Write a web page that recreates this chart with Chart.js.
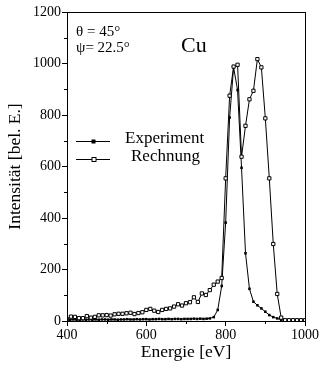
<!DOCTYPE html>
<html lang="de">
<head>
    <meta charset="utf-8">
    <script src="https://cdn.jsdelivr.net/npm/chart.js@4.4.0/dist/chart.umd.min.js"></script>
    <style>
        body { margin: 0; background: #fff; }
        canvas { display: block; }
    </style>
</head>
<body>
<canvas id="myChart" width="321" height="375"></canvas>
<script>
    // Experiment: Energie [eV] und Intensität
    var expEnergie = [400,408,416,424,432,440,448,456,464,472,480,488,496,504,512,520,528,536,544,552,
        560,568,576,584,592,600,608,616,624,632,640,648,656,664,672,680,688,696,704,712,
        720,728,736,744,752,760,
        770,780,790,800,810,820,830,840,850,860,870,880,890,900,910,920,930,940,950,960,970,980,990,1000];
    var expWerte = [6,5,6,5,5,6,5,6,5,6,5,6,6,5,6,6,5,6,6,7,
        6,6,7,6,7,7,6,7,7,8,7,7,8,7,8,8,7,8,8,8,
        9,8,9,8,9,10,
        15,43,136,382,790,985,897,595,263,125,75,61,49,36,23,15,10,5,3,3,3,3,3,3];

    // Rechnung
    var rechEnergie = [400,410,420,430,440,450,460,470,480,490,500,510,520,530,540,550,560,570,580,590,
        600,610,620,630,640,650,660,670,680,690,700,710,720,730,740,750,760,770,780,790,
        800,810,820,830,840,850,860,870,880,890,900,910,920,930,940,950,960,970,980,990,1000];
    var rechWerte = [7,17,16,11,11,19,13,16,22,22,23,21,26,28,28,30,32,27,31,34,
        43,47,40,35,43,47,49,56,65,60,69,73,92,74,107,101,120,141,153,167,
        554,875,988,995,638,758,861,894,1017,985,787,554,299,105,13,3,3,3,3,3,3];

    var xTicks = [400, 600, 800, 1000];
    var yTicks = [0, 200, 400, 600, 800, 1000, 1200];
    var xMinor = [500, 700, 900];
    var yMinor = [100, 300, 500, 700, 900, 1100];

    var serif = "'Liberation Serif', 'DejaVu Serif', serif";

    function points(xs, ys) {
        return xs.map(function (x, i) { return {x: x, y: ys[i]}; });
    }

    // Rahmen, Nebenstriche, Legende und Beschriftung
    var extras = {
        id: 'extras',
        afterDraw: function (chart) {
            var c = chart.ctx, a = chart.chartArea;
            var sx = chart.scales.x, sy = chart.scales.y;
            c.save();
            c.strokeStyle = '#000';
            c.lineWidth = 1;
            c.strokeRect(a.left + 0.5, a.top + 0.5, a.right - a.left, a.bottom - a.top);

            c.beginPath();
            yMinor.forEach(function (v) {
                var y = Math.round(sy.getPixelForValue(v)) + 0.5;
                c.moveTo(a.left - 3, y); c.lineTo(a.left, y);
            });
            xMinor.forEach(function (v) {
                var x = Math.round(sx.getPixelForValue(v)) + 0.5;
                c.moveTo(x, a.bottom); c.lineTo(x, a.bottom + 3);
            });
            c.stroke();

            // Legende
            c.fillStyle = '#000';
            c.beginPath();
            c.moveTo(76, 141.5); c.lineTo(110, 141.5);
            c.moveTo(76, 159.5); c.lineTo(110, 159.5);
            c.stroke();
            c.fillRect(91.5, 139.5, 4, 4);
            c.fillStyle = '#fff';
            c.fillRect(92, 157.5, 4, 4);
            c.strokeRect(92, 157.5, 4, 4);

            c.fillStyle = '#000';
            c.font = '17px ' + serif;
            c.textBaseline = 'middle';
            c.textAlign = 'left';
            c.fillText('Experiment', 125, 139);
            c.fillText('Rechnung', 131, 157);

            c.font = '15px ' + serif;
            c.fillText('\u03B8 = 45\u00B0', 76, 32);
            c.fillText('\u03C8= 22.5\u00B0', 76, 48);

            c.font = '22px ' + serif;
            c.fillText('Cu', 181, 46);
            c.restore();
        }
    };

    var ctx = document.getElementById('myChart').getContext('2d');
    var myChart = new Chart(ctx, {
        type: 'scatter',
        data: {
            datasets: [{
                label: 'Rechnung',
                data: points(rechEnergie, rechWerte),
                showLine: true,
                borderColor: '#000',
                borderWidth: 1,
                pointStyle: 'rect',
                pointRadius: 2.3,
                pointBorderWidth: 1,
                pointBorderColor: '#000',
                pointBackgroundColor: '#fff'
            }, {
                label: 'Experiment',
                data: points(expEnergie, expWerte),
                showLine: true,
                borderColor: '#000',
                borderWidth: 1,
                pointStyle: 'rect',
                pointRadius: 1.8,
                pointBorderWidth: 0,
                pointBackgroundColor: '#000'
            }]
        },
        options: {
            responsive: false,
            animation: false,
            layout: { padding: { top: 12, right: 16, left: 0, bottom: 0 } },
            plugins: { legend: { display: false }, tooltip: { enabled: false } },
            scales: {
                x: {
                    type: 'linear',
                    min: 400, max: 1000,
                    afterBuildTicks: function (s) { s.ticks = xTicks.map(function (v) { return {value: v}; }); },
                    afterFit: function (s) { s.height = 54; },
                    grid: { drawOnChartArea: false, tickLength: 5, color: '#000' },
                    border: { color: '#000' },
                    ticks: { color: '#000', padding: 1, maxRotation: 0, font: { family: serif, size: 14 },
                        callback: function (v) { return String(v); } },
                    title: { display: true, text: 'Energie [eV]', color: '#000', padding: { top: 0, bottom: 12 },
                        font: { family: serif, size: 17.5 } }
                },
                y: {
                    min: 0, max: 1200,
                    afterBuildTicks: function (s) { s.ticks = yTicks.map(function (v) { return {value: v}; }); },
                    afterFit: function (s) { s.width = 67; },
                    grid: { drawOnChartArea: false, tickLength: 5, color: '#000' },
                    border: { color: '#000' },
                    ticks: { color: '#000', padding: 1, font: { family: serif, size: 14 },
                        callback: function (v) { return String(v); } },
                    title: { display: true, text: 'Intensität [bel. E.]', color: '#000', padding: { top: 5, bottom: 0 },
                        font: { family: serif, size: 17.5 } }
                }
            }
        },
        plugins: [extras]
    });
</script>
</body>
</html>
